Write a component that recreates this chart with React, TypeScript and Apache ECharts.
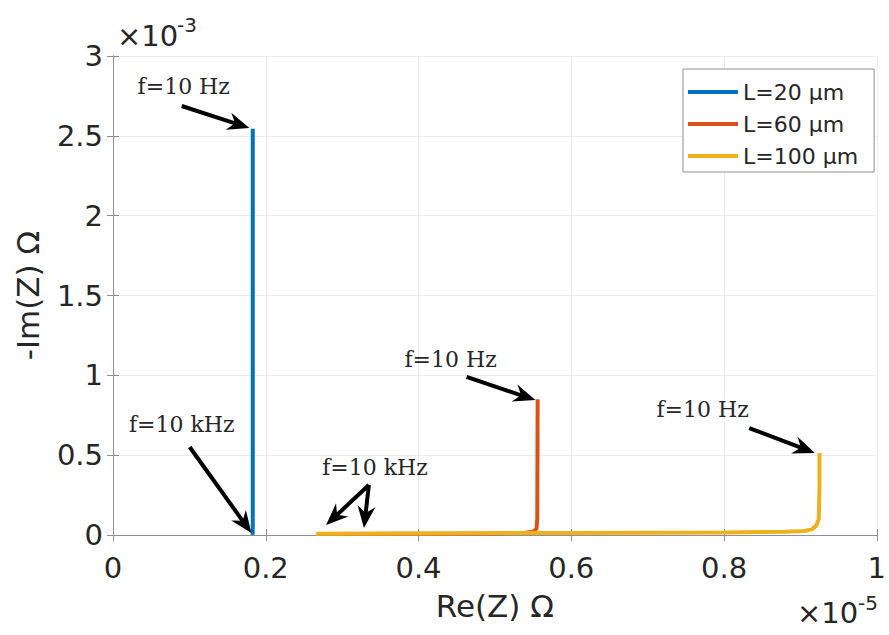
import React, { useEffect, useRef } from "react";
import * as echarts from "echarts";

// ---- data (Re(Z) in 1e-5 Ω, -Im(Z) in 1e-3 Ω) ----
const xTicks = [0, 0.2, 0.4, 0.6, 0.8, 1];
const yTicks = [0, 0.5, 1, 1.5, 2, 2.5, 3];
const seriesNames = ["L=20 µm", "L=60 µm", "L=100 µm"];
const seriesColors = ["#0072BD", "#D95319", "#EDB120"];

const l20: [number, number][] = [
  [0.1826, 0.0],
  [0.1828, 0.01],
  [0.183, 0.05],
  [0.183, 0.5],
  [0.183, 2.545],
];
const l60: [number, number][] = [
  [0.27, 0.006],
  [0.4, 0.008],
  [0.5, 0.01],
  [0.54, 0.014],
  [0.551, 0.022],
  [0.5545, 0.04],
  [0.5555, 0.1],
  [0.556, 0.85],
];
const l100: [number, number][] = [
  [0.266, 0.008],
  [0.4, 0.01],
  [0.6, 0.013],
  [0.8, 0.016],
  [0.88, 0.02],
  [0.905, 0.025],
  [0.915, 0.035],
  [0.921, 0.06],
  [0.924, 0.1],
  [0.925, 0.3],
  [0.925, 0.513],
];

// annotation labels (data coords of text centre)
const annLabels: { text: string; at: [number, number] }[] = [
  { text: "f=10 Hz", at: [0.0926, 2.806] },
  { text: "f=10 kHz", at: [0.09, 0.695] },
  { text: "f=10 kHz", at: [0.343, 0.42] },
  { text: "f=10 Hz", at: [0.442, 1.102] },
  { text: "f=10 Hz", at: [0.772, 0.783] },
];
// arrows: [tail, tip] in data coords
const annArrows: [[number, number], [number, number]][] = [
  [[0.09, 2.687], [0.1786, 2.549]],
  [[0.1004, 0.551], [0.1812, 0.0125]],
  [[0.335, 0.313], [0.279, 0.063]],
  [[0.335, 0.313], [0.3286, 0.044]],
  [[0.463, 0.99], [0.553, 0.845]],
  [[0.833, 0.67], [0.919, 0.514]],
];

const SANS = '"DejaVu Sans", sans-serif';
const SERIF = '"DejaVu Serif", serif';
const TXT = "#262626";
const BOX = "#8f8f8f";

export default function App() {
  const ref = useRef<HTMLDivElement>(null);
  useEffect(() => {
    if (!ref.current) return;
    const chart = echarts.init(ref.current, null, { renderer: "svg" });
    const fmt = (v: number) => String(+Number(v).toFixed(2));
    const common = {
      min: 0,
      axisLine: { show: true, lineStyle: { color: BOX, width: 1 } },
      axisTick: { show: true, inside: true, length: 6, lineStyle: { color: BOX } },
    };
    chart.setOption({
      animation: false,
      backgroundColor: "#fff",
      grid: { left: 113, right: 9, top: 56, bottom: 100 },
      legend: {
        orient: "vertical",
        left: 683,
        top: 69,
        icon: "rect",
        itemWidth: 50,
        itemHeight: 4,
        itemGap: 6,
        padding: [10, 16, 3, 5],
        borderColor: BOX,
        borderWidth: 1,
        backgroundColor: "#fff",
        data: seriesNames,
        textStyle: { fontFamily: SANS, fontSize: 22, color: TXT, lineHeight: 26 },
        selectedMode: false,
      },
      xAxis: [
        {
          ...common,
          type: "value",
          max: xTicks[xTicks.length - 1],
          interval: 0.2,
          name: "Re(Z) Ω",
          nameLocation: "middle",
          nameGap: 55,
          nameTextStyle: { fontFamily: SANS, fontSize: 31, color: TXT },
          axisLabel: { margin: 18, fontFamily: SANS, fontSize: 29, color: TXT, formatter: fmt },
          splitLine: { show: true, lineStyle: { color: "#ebebeb", width: 1 } },
        },
        {
          ...common,
          type: "value",
          position: "top",
          max: xTicks[xTicks.length - 1],
          interval: 0.2,
          axisLabel: { show: false },
          splitLine: { show: false },
        },
      ],
      yAxis: [
        {
          ...common,
          type: "value",
          max: yTicks[yTicks.length - 1],
          interval: 0.5,
          name: "-Im(Z) Ω",
          nameLocation: "middle",
          nameGap: 70,
          nameTextStyle: { fontFamily: SANS, fontSize: 31, color: TXT },
          axisLabel: { margin: 10, fontFamily: SANS, fontSize: 29, color: TXT, formatter: fmt },
          splitLine: { show: true, lineStyle: { color: "#ebebeb", width: 1 } },
        },
        {
          ...common,
          type: "value",
          position: "right",
          max: yTicks[yTicks.length - 1],
          interval: 0.5,
          axisLabel: { show: false },
          splitLine: { show: false },
        },
      ],
      series: [l20, l60, l100].map((d, i) => ({
        name: seriesNames[i],
        type: "line",
        data: d,
        showSymbol: false,
        symbol: "none",
        color: seriesColors[i],
        lineStyle: { color: seriesColors[i], width: 4 },
        emphasis: { disabled: true },
        silent: true,
        z: 2 + i,
      })),
    });

    const toPx = (p: [number, number]) =>
      chart.convertToPixel({ seriesIndex: 0 }, p) as number[];
    const graphics: any[] = [];
    annLabels.forEach((a) => {
      const [x, y] = toPx(a.at);
      graphics.push({
        type: "text",
        x,
        y,
        z: 100,
        style: {
          text: a.text,
          fontFamily: SERIF,
          fontSize: 22,
          fill: TXT,
          align: "center",
          verticalAlign: "middle",
        },
      });
    });
    annArrows.forEach(([t, h]) => {
      const [x1, y1] = toPx(t);
      const [x2, y2] = toPx(h);
      const dx = x2 - x1;
      const dy = y2 - y1;
      const len = Math.hypot(dx, dy);
      const ux = dx / len;
      const uy = dy / len;
      const nx = -uy;
      const ny = ux;
      const hl = 22;
      const hw = 9;
      const notch = 15;
      graphics.push({
        type: "line",
        z: 100,
        shape: { x1, y1, x2: x2 - ux * notch, y2: y2 - uy * notch },
        style: { stroke: "#000", lineWidth: 4 },
      });
      graphics.push({
        type: "polygon",
        z: 100,
        shape: {
          points: [
            [x2, y2],
            [x2 - ux * hl + nx * hw, y2 - uy * hl + ny * hw],
            [x2 - ux * notch, y2 - uy * notch],
            [x2 - ux * hl - nx * hw, y2 - uy * hl - ny * hw],
          ],
        },
        style: { fill: "#000" },
      });
    });
    // exponent labels
    graphics.push(
      { type: "text", x: 117, y: 36, style: { text: "×10", fontFamily: SANS, fontSize: 29, fill: TXT, align: "left", verticalAlign: "middle" } },
      { type: "text", x: 177, y: 24.5, style: { text: "-3", fontFamily: SANS, fontSize: 20, fill: TXT, align: "left", verticalAlign: "middle" } },
      { type: "text", x: 797, y: 612.5, style: { text: "×10", fontFamily: SANS, fontSize: 29, fill: TXT, align: "left", verticalAlign: "middle" } },
      { type: "text", x: 858, y: 602.5, style: { text: "-5", fontFamily: SANS, fontSize: 20, fill: TXT, align: "left", verticalAlign: "middle" } }
    );
    chart.setOption({ graphic: graphics });
    return () => chart.dispose();
  }, []);
  return (
    <div
      ref={ref}
      style={{ position: "absolute", left: 0, top: 0, width: 889, height: 635 }}
    />
  );
}
